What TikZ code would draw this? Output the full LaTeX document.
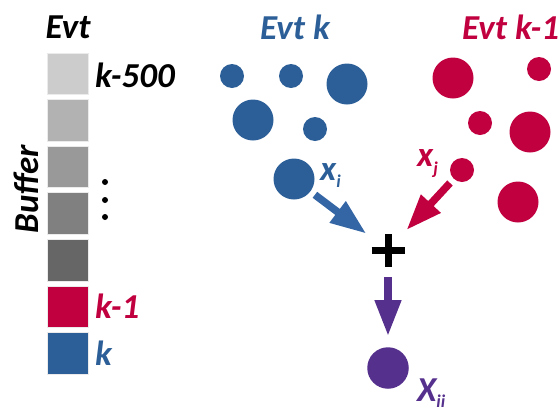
\documentclass[tikz,border=0pt]{standalone}
\usepackage{fontspec}
\setmainfont{Carlito}
\usetikzlibrary{arrows.meta}
\definecolor{evblue}{HTML}{2C5F98}
\definecolor{arblue}{HTML}{3465A4}
\definecolor{evred}{HTML}{C0003F}
\definecolor{evpurple}{HTML}{55308D}
\tikzset{
  lbl/.style={font=\fontsize{35}{35}\selectfont\bfseries\itshape, inner sep=0pt},
  sq/.style={minimum size=41.5pt, inner sep=0pt, draw=black!8, line width=0.8pt},
  dotb/.style={circle, fill=black, minimum size=6pt, inner sep=0pt},
  bsmall/.style={circle, fill=evblue, minimum size=24pt, inner sep=0pt},
  bbig/.style={circle, fill=evblue, minimum size=41pt, inner sep=0pt},
  rsmall/.style={circle, fill=evred, minimum size=24pt, inner sep=0pt},
  rbig/.style={circle, fill=evred, minimum size=41pt, inner sep=0pt},
  fat/.style={line width=7.5pt, -{Triangle[length=36pt,width=25pt]}},
}
\begin{document}
\begin{tikzpicture}[x=1pt,y=-1pt]
\useasboundingbox (0,0) rectangle (560,413);
% buffer
\node[lbl, anchor=base] (evt) at (68,38) {Evt};
\node[sq, fill=black!20] (s1) at (68,74) {};
\node[sq, fill=black!30] (s2) at (68,120.5) {};
\node[sq, fill=black!40] (s3) at (68,167) {};
\node[sq, fill=black!50] (s4) at (68,213.5) {};
\node[sq, fill=black!60] (s5) at (68,260.5) {};
\node[sq, fill=evred] (s6) at (68,307) {};
\node[sq, fill=evblue] (s7) at (68,353.5) {};
\node[lbl, anchor=base west] (k500) at (95,87) {k-500};
\node[lbl, anchor=base west, text=evred] (k1) at (95,318) {k-1};
\node[lbl, anchor=base west, text=evblue] (k) at (95,365) {k};
\node[lbl, anchor=base, rotate=90] (buf) at (38,189) {Buffer};
\node[dotb] (d1) at (105,182) {};
\node[dotb] (d2) at (105,200) {};
\node[dotb] (d3) at (105,217) {};
% events
\node[lbl, anchor=base west, text=evblue] (evk) at (260,39) {Evt k};
\node[lbl, anchor=base west, text=evred] (evk1) at (462,39) {Evt k-1};
\node[bsmall] (b1) at (232,76) {};
\node[bsmall] (b2) at (291,76) {};
\node[bbig] (b3) at (347,84) {};
\node[bbig] (b4) at (253,120) {};
\node[bsmall] (b5) at (315,129) {};
\node[bbig] (b6) at (294,179) {};
\node[rbig] (r1) at (453,78) {};
\node[rsmall] (r2) at (539,69) {};
\node[rsmall] (r3) at (480,123) {};
\node[rbig] (r4) at (530,132) {};
\node[rsmall] (r5) at (462,170) {};
\node[rbig] (r6) at (518,202) {};
% labels
\node[lbl, anchor=base west, text=evblue] (xi) at (320,180) {x\raisebox{-7pt}{\fontsize{18}{18}\selectfont i}};
\node[lbl, anchor=base west, text=evred] (xj) at (417,166) {x\raisebox{-8pt}{\fontsize{18}{18}\selectfont j}};
% plus
\node[circle, minimum size=54pt, inner sep=0pt] (plus) at (388,250) {};
\draw[line width=7pt] ([xshift=-16.5pt]plus.center) -- ([xshift=16.5pt]plus.center);
\draw[line width=7pt] ([yshift=-16.5pt]plus.center) -- ([yshift=16.5pt]plus.center);
% result
\node[circle, fill=evpurple, minimum size=41.5pt, inner sep=0pt] (xii) at (388,368) {};
\node[lbl, anchor=base west, text=evpurple] (xiil) at (417,401) {X\raisebox{-6pt}{\fontsize{18}{18}\selectfont ii}};
% arrows
\draw[fat, arblue, shorten <=5.5pt] (b6) -- (plus);
\draw[fat, evred, shorten <=5.5pt] (r5) -- (plus);
\draw[fat, evpurple, shorten >=11pt] (plus) -- (xii);
\end{tikzpicture}
\end{document}
